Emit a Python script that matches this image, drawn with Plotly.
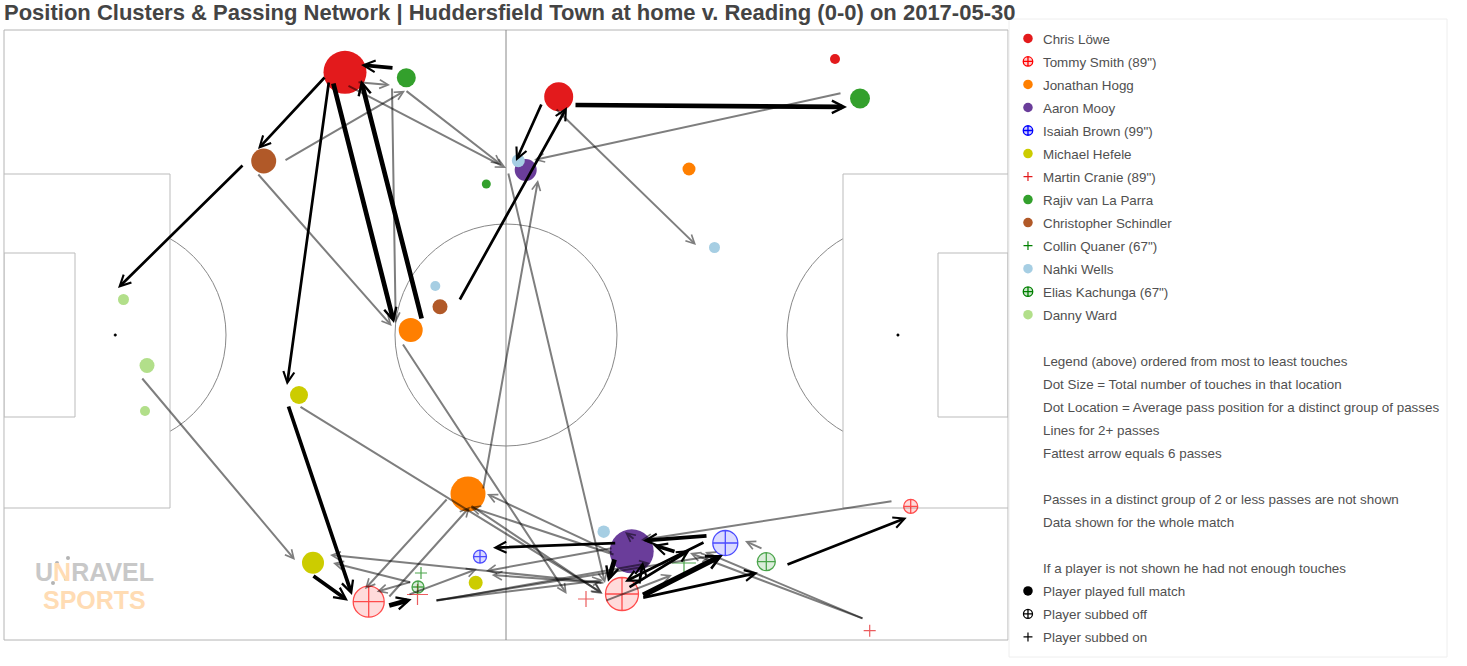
import plotly.graph_objects as go

TITLE = "Position Clusters &amp; Passing Network | Huddersfield Town at home v. Reading (0-0) on 2017-05-30"

# Pitch units: x 0-100.4, y 0-61
PITCH_X = [0, 100.4]
PITCH_Y = [0, 61]

players = ["Chris Löwe", 'Tommy Smith (89")', "Jonathan Hogg", "Aaron Mooy", 'Isaiah Brown (99")',
           "Michael Hefele", 'Martin Cranie (89")', "Rajiv van La Parra", "Christopher Schindler",
           'Collin Quaner (67")', "Nahki Wells", 'Elias Kachunga (67")', "Danny Ward"]
colors = ["#e31a1c", "#ff0000", "#ff7f00", "#6a3d9a", "#0000ff", "#cccc00", "#e31a1c", "#33a02c",
          "#b15928", "#008000", "#a6cee3", "#008000", "#b2df8a"]
kinds = ["full", "off", "full", "full", "off", "full", "on", "full", "full", "on", "full", "off", "full"]

xs = [[34.1, 55.47, 83.1], [36.47, 61.8, 90.67], [46.4, 40.67, 68.5], [62.77, 52.17], [72.13, 47.6],
      [30.9, 29.5, 47.17], [41.35, 58.2, 86.57], [40.23, 85.6, 48.23], [25.97, 43.6], [41.7, 68.0],
      [51.43, 71.05, 43.13, 59.97], [76.23, 41.4], [14.3, 11.95, 14.1]]
ys = [[56.77, 54.33, 58.1], [3.83, 4.6, 13.37], [14.6, 31.0, 47.1], [8.87, 47.0], [9.7, 8.33],
      [7.73, 24.5, 5.73], [4.55, 4.1, 0.93], [56.23, 54.15, 45.6], [47.9, 33.33], [6.7, 7.7],
      [47.93, 39.25, 35.4, 10.83], [7.83, 5.3], [27.45, 34.05, 22.9]]
touch_sizes = [[43, 29, 10], [31, 33, 14], [35, 24, 13], [44, 22], [25, 13], [22, 18, 14], [15, 11.4, 8.6],
               [19, 20, 9], [25, 15], [8.6, 17], [13, 11, 10, 12.5], [18, 12], [15, 11, 10]]

# Passing links: tail -> head, number of passes
tail_x = [39.0, 32.2, 32.5, 32.9, 41.8, 45.5, 57.0, 53.8, 24.0, 28.4, 30.8, 38.37, 61.27, 70.4, 67.2, 70.1, 62.4,
          63.77, 63.77, 61.1, 63.5, 78.2,
          35.3, 34.3, 40.1, 28.0, 25.3, 38.8, 83.8, 55.1, 50.4, 47.9, 39.8, 13.7, 29.5, 44.4, 38.4, 46.6, 61.1, 60.9,
          60.1, 40.77, 40.77, 40.4, 60.9, 59.9, 60.1, 43.1, 43.1, 43.1, 86.0, 86.0, 88.9, 75.9, 63.1]
tail_y = [57.2, 56.4, 55.9, 55.8, 32.0, 33.9, 53.5, 53.7, 47.6, 23.5, 6.5, 3.4, 9.7, 10.43, 8.8, 9.83, 5.2,
          4.4, 4.2, 8.2, 5.5, 7.5,
          55.8, 55.5, 55.0, 47.9, 46.7, 55.3, 54.7, 53.2, 46.8, 15.0, 29.7, 26.3, 23.4, 14.2, 4.2, 13.5, 8.5, 8.7,
          5.7, 5.73, 5.83, 4.5, 9.2, 5.7, 3.9, 3.95, 3.95, 3.9, 2.1, 2.1, 13.9, 9.1, 10.0]
head_x = [35.7, 25.4, 28.3, 39.0, 35.7, 56.3, 84.3, 51.2, 11.4, 34.8, 34.4, 40.77, 48.9, 63.9, 64.9, 62.1, 68.6,
          71.9, 75.4, 60.4, 63.9, 90.27,
          38.6, 50.2, 49.77, 40.1, 38.77, 39.17, 53.0, 69.2, 60.1, 53.4, 56.27, 29.1, 59.8, 36.1, 46.6, 59.87, 46.6, 48.3,
          32.6, 32.9, 37.27, 47.3, 48.2, 48.77, 66.8, 70.8, 59.9, 64.6, 70.1, 68.6, 63.7, 74.1, 62.1]
head_y = [57.5, 49.1, 25.5, 31.7, 56.0, 53.3, 53.3, 47.9, 35.2, 4.5, 3.93, 4.07, 9.23, 9.93, 9.5, 5.83, 9.0,
          8.5, 6.73, 5.83, 7.83, 12.23,
          55.5, 47.2, 47.5, 54.93, 31.4, 31.7, 48.0, 39.5, 5.7, 46.0, 4.6, 8.0, 4.7, 5.1, 13.33, 4.6, 13.3, 14.6,
          8.5, 7.7, 4.83, 7.1, 6.9, 6.5, 6.5, 8.4, 6.0, 7.7, 8.8, 8.7, 10.0, 9.9, 10.8]
passes = [4, 3, 3, 5, 5, 3, 5, 3, 3, 4, 4, 5, 3, 4, 4, 3, 3, 6, 3, 5, 3, 3] + [2] * 33

logo_x = [5.3, 6.4, 4.9, 6.2]
logo_y = [7.7, 8.2, 5.7, 6.1]

notes_1 = ["Legend (above) ordered from most to least touches",
           "Dot Size = Total number of touches in that location",
           "Dot Location = Average pass position for a distinct group of passes",
           "Lines for 2+ passes",
           "Fattest arrow equals 6 passes"]
notes_2 = ["Passes in a distinct group of 2 or less passes are not shown",
           "Data shown for the whole match"]
notes_3 = ["If a player is not shown he had not enough touches"]

TEXT = "#444444"
LEGEND_TEXT = "#505050"
LINE_STYLE = {2: ("rgba(0,0,0,0.5)", 2.0, 0.85), 3: ("#000", 2.7, 0.8), 4: ("#000", 3.7, 0.62),
              5: ("#000", 4.7, 0.52), 6: ("#000", 5.4, 0.5)}

def rgba(hex_color, a):
    h = hex_color.lstrip("#")
    return f"rgba({int(h[0:2],16)},{int(h[2:4],16)},{int(h[4:6],16)},{a})"

def marker_style(kind, color, size):
    if kind == "full":
        return dict(symbol="circle", color=color, size=size, opacity=1, line=dict(width=0))
    if kind == "off":
        return dict(symbol="circle-cross", color=rgba(color, 0.2), size=size, line=dict(color=color, width=1.3))
    return dict(symbol="cross-thin", color=color, size=size, line=dict(color=color, width=1.2))

fig = go.Figure()

def legend_row(name, marker=None):
    m = marker or dict(symbol="circle", color="rgba(0,0,0,0)", size=10, line=dict(width=0))
    fig.add_trace(go.Scatter(x=[None], y=[None], mode="markers", name=name, legendgroup=name,
                             marker=m, showlegend=True, hoverinfo="skip"))

# data traces
for p, c, k, x, y, s in zip(players, colors, kinds, xs, ys, touch_sizes):
    fig.add_trace(go.Scatter(x=x, y=y, mode="markers", name=p, showlegend=False, marker=marker_style(k, c, s),
                             hovertemplate=p + "<extra></extra>"))
fig.add_trace(go.Scatter(x=logo_x, y=logo_y, mode="markers", showlegend=False, hoverinfo="skip",
                         marker=dict(color="#b4b4b4", size=4)))

# legend rows
for p, c, k in zip(players, colors, kinds):
    legend_row(p, marker_style(k, c, 6.4 if k == "on" else 9.5))
legend_row("\u00a0")
for t in notes_1:
    legend_row(t)
legend_row("\u00a0\u00a0")
for t in notes_2:
    legend_row(t)
legend_row("\u00a0\u00a0\u00a0")
for t in notes_3:
    legend_row(t)
legend_row("Player played full match", marker_style("full", "#000000", 9.5))
legend_row("Player subbed off", dict(symbol="circle-cross", color="rgba(0,0,0,0)", size=9, line=dict(color="#000", width=1.3)))
legend_row("Player subbed on", marker_style("on", "#000000", 6.4))

# pitch
GREY = "#bbbbbb"
DARK = "#888888"
W = PITCH_X[1]; H = PITCH_Y[1]
shapes = [
    dict(type="circle", x0=0.0, x1=22.2, y0=19.4, y1=41.6, line=dict(color=DARK, width=1)),
    dict(type="circle", x0=78.3, x1=100.5, y0=19.4, y1=41.6, line=dict(color=DARK, width=1)),
    dict(type="rect", x0=0, x1=16.6, y0=13.2, y1=46.6, line=dict(color=GREY, width=1), fillcolor="white"),
    dict(type="rect", x0=83.9, x1=W, y0=13.2, y1=46.6, line=dict(color=GREY, width=1), fillcolor="white"),
    dict(type="rect", x0=0, x1=7.1, y0=22.3, y1=38.7, line=dict(color=GREY, width=1)),
    dict(type="rect", x0=93.4, x1=W, y0=22.3, y1=38.7, line=dict(color=GREY, width=1)),
    dict(type="circle", x0=39.1, x1=61.3, y0=19.4, y1=41.6, line=dict(color=DARK, width=1)),
    dict(type="line", x0=50.2, x1=50.2, y0=0, y1=H, line=dict(color=DARK, width=1)),
    dict(type="circle", x0=11.0, x1=11.25, y0=30.37, y1=30.62, line=dict(color="#000", width=0.5), fillcolor="#000"),
    dict(type="circle", x0=89.27, x1=89.52, y0=30.37, y1=30.62, line=dict(color="#000", width=0.5), fillcolor="#000"),
    dict(type="rect", xref="paper", yref="paper", x0=0, x1=1, y0=0, y1=1, line=dict(color="#b4b4b4", width=1)),
    dict(type="rect", xref="paper", yref="paper", x0=1.001, x1=1.4373, y0=-0.0279, y1=1.018,
         line=dict(color="#eeeeee", width=1)),
]
for s in shapes:
    s.setdefault("layer", "below")

annotations = []
for tx, ty, hx, hy, n in zip(tail_x, tail_y, head_x, head_y, passes):
    col, w, sz = LINE_STYLE[n]
    annotations.append(dict(x=hx, y=hy, ax=tx, ay=ty, xref="x", yref="y", axref="x", ayref="y", text="",
                            showarrow=True, arrowhead=5, arrowsize=sz, arrowwidth=w, arrowcolor=col))
annotations.append(dict(x=9.0, y=6.85, xref="x", yref="y", showarrow=False,
                        text='U<span style="color:#ffdcb4">N</span>RAVEL',
                        font=dict(family="Liberation Sans", size=25, color="#c8c8c8", weight="bold")))
annotations.append(dict(x=9.0, y=4.0, xref="x", yref="y", showarrow=False, text="SPORTS",
                        font=dict(family="Liberation Sans", size=25, color="#ffdcb4", weight="bold")))

fig.update_layout(
    width=1467, height=666,
    margin=dict(l=4, r=459, t=30, b=26, autoexpand=False),
    paper_bgcolor="white", plot_bgcolor="white",
    font=dict(family="Liberation Sans, Arial, sans-serif", size=13, color=TEXT),
    title=dict(text=TITLE, x=4 / 1467, xanchor="left", xref="container", y=1 - 12 / 666, yanchor="middle",
               font=dict(family="Liberation Sans", size=22, color=TEXT, weight="bold")),
    xaxis=dict(range=PITCH_X, visible=False, fixedrange=True),
    yaxis=dict(range=PITCH_Y, visible=False, fixedrange=True),
    showlegend=True,
    legend=dict(x=0.995, y=1.0111, xanchor="left", yanchor="top", tracegroupgap=2.6, borderwidth=0, maxheight=660,
                bgcolor="rgba(0,0,0,0)", font=dict(size=13.4, color=LEGEND_TEXT), itemclick=False, itemdoubleclick=False),
    shapes=shapes, annotations=annotations,
)

fig.write_html("out.html", config=dict(displayModeBar=False),
               post_script="document.body.style.margin='0';document.body.style.overflow='hidden';"
                           "document.querySelectorAll('.legendsymbols').forEach(function(g){g.setAttribute('transform','translate(5,0)');});")
